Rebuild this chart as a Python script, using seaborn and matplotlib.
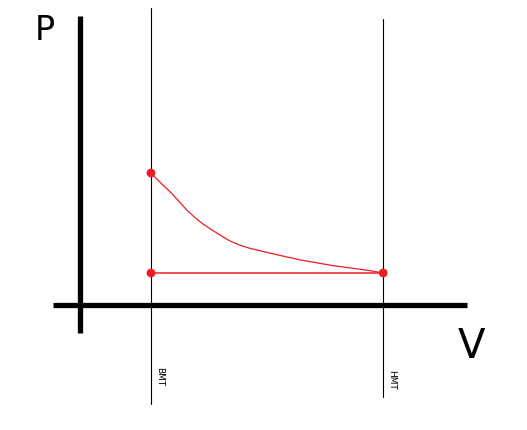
import matplotlib
matplotlib.use("Agg")
import matplotlib.pyplot as plt
import seaborn as sns
import pandas as pd

sns.set_style("white")
plt.rcParams['font.family'] = ['DejaVu Sans']
plt.rcParams['text.color'] = 'black'

# Data (arbitrary units): V axis, P axis
v_bmt = 1.0
v_hmt = 4.27
curve_v = [1.0, 1.13, 1.268, 1.39, 1.503, 1.62, 1.732, 1.925, 2.113, 2.25, 2.394, 2.676, 3.099, 3.563, 4.038, 4.27]
curve_p = [4.125, 3.83, 3.54, 3.25, 2.97, 2.73, 2.53, 2.25, 2.0, 1.87, 1.77, 1.62, 1.41, 1.23, 1.09, 1.0]
point_v = [1.0, 1.0, 4.27]
point_p = [4.125, 1.0, 1.0]
base_v = [1.0, 4.27]
base_p = [1.0, 1.0]
labels = ["BMT", "HMT"]

fig = plt.figure(figsize=(5.27, 4.30), dpi=100)
ax = fig.add_axes([0, 0, 1, 1])
ax.set_xlim(-80 / 71, (527 - 80) / 71)
ax.set_ylim((305 - 430) / 32, 305 / 32)
ax.axis("off")

# thick axes
ax.plot([-0.38, 5.45], [0, 0], color="black", lw=3.8, solid_capstyle="butt")
ax.plot([0, 0], [-0.875, 9.03], color="black", lw=3.8, solid_capstyle="butt")

# thin vertical lines
ax.plot([v_bmt, v_bmt], [-3.09, 9.28], color="black", lw=0.8)
ax.plot([v_hmt, v_hmt], [-2.875, 8.94], color="black", lw=0.8)

# red curve and base line
sns.lineplot(x=curve_v, y=curve_p, ax=ax, color="#ee1c24", lw=0.9, sort=False)
sns.lineplot(x=base_v, y=base_p, ax=ax, color="#ee1c24", lw=1.1, sort=False)
sns.scatterplot(x=point_v, y=point_p, ax=ax, color="#ee1c24", s=40, edgecolor="none", zorder=5)

# labels
ax.text(-0.5, (305 - 30) / 32, "P", fontsize=24, ha="center", va="center", color="black")
ax.text((471 - 80) / 71, (305 - 347) / 32, "V", fontsize=29, ha="center", va="center", color="black")
ax.text(v_bmt + 9 / 71, (305 - 377) / 32, labels[0], fontsize=6.5, rotation=270,
        ha="center", va="center", color="black")
ax.text(v_hmt + 8 / 71, (305 - 380) / 32, labels[1], fontsize=6.5, rotation=270,
        ha="center", va="center", color="black")

fig.savefig("out.png", dpi=100)
